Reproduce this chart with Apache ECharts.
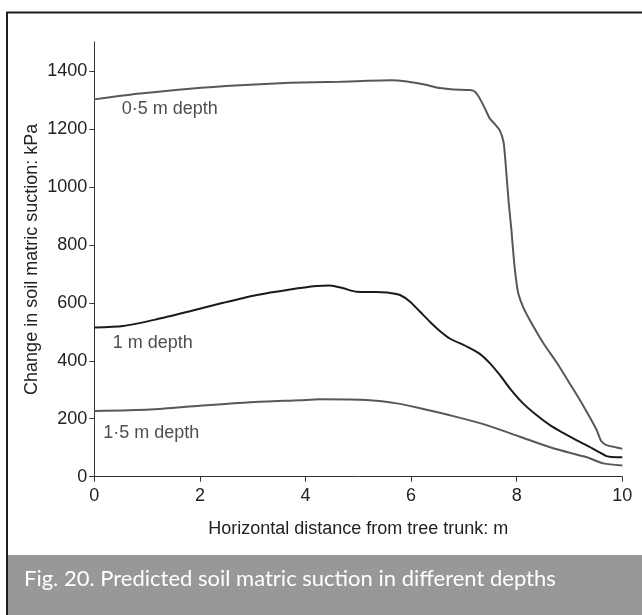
<!DOCTYPE html>
<html>
<head>
<meta charset="utf-8">
<script src="https://cdn.jsdelivr.net/npm/echarts@6/dist/echarts.min.js"></script>
<style>
  html, body { margin: 0; padding: 0; background: #fff; }
  #chart { width: 642px; height: 615px; }
</style>
</head>
<body>
<div id="chart"></div>
<script>
// distance from trunk (m) / suction (kPa)
var depth05 = [
  [0, 1302], [0.87, 1322], [1.81, 1339], [2.76, 1351], [3.7, 1359], [4.65, 1363],
  [5.6, 1368], [5.92, 1364], [6.23, 1354], [6.55, 1341], [6.8, 1336], [7.12, 1334],
  [7.21, 1328], [7.3, 1305], [7.4, 1270], [7.49, 1236], [7.59, 1216], [7.68, 1195],
  [7.75, 1155], [7.78, 1103], [7.81, 1034], [7.85, 943], [7.9, 851], [7.95, 742],
  [7.99, 678], [8.03, 632], [8.12, 586], [8.25, 540], [8.5, 462], [8.76, 393],
  [9.01, 320], [9.26, 245], [9.51, 163], [9.6, 123], [9.7, 109], [9.89, 101], [10, 96]
];
var depth10 = [
  [0, 515], [0.55, 520], [1.18, 543], [1.81, 571], [2.44, 600], [3.08, 627],
  [3.71, 646], [4.21, 658], [4.46, 660], [4.72, 650], [4.97, 638], [5.35, 637],
  [5.6, 634], [5.79, 627], [5.98, 604], [6.17, 569], [6.36, 534], [6.55, 502],
  [6.74, 476], [7.05, 450], [7.3, 424], [7.49, 392], [7.68, 351], [7.87, 305],
  [8.12, 253], [8.38, 212], [8.63, 178], [8.88, 151], [9.13, 126], [9.38, 103],
  [9.58, 83], [9.7, 71], [9.89, 67], [10, 67]
];
var depth15 = [
  [0, 227], [1.06, 232], [2.0, 245], [2.95, 257], [3.9, 264], [4.27, 267],
  [5.22, 264], [5.73, 253], [6.17, 236], [6.8, 209], [7.43, 178], [8.06, 138],
  [8.69, 98], [9.33, 67], [9.64, 46], [10, 39]
];
var curveLabels = [
  [0.52, 1268, '0·5 m depth'],
  [0.35, 462, '1 m depth'],
  [0.17, 150, '1·5 m depth']
];
var yTicks = [0, 200, 400, 600, 800, 1000, 1200, 1400];
var caption = 'Fig. 20. Predicted soil matric suction in different depths';

var chart = echarts.init(document.getElementById('chart'), null, { renderer: 'canvas' });

var font = '"Liberation Sans", Arial, sans-serif';

function curve(name, data, color) {
  return {
    name: name,
    type: 'line',
    data: data,
    showSymbol: false,
    smooth: 0.25,
    lineStyle: { color: color, width: 2 },
    z: 3
  };
}

chart.setOption({
  backgroundColor: '#fff',
  animation: false,
  graphic: [
    {
      type: 'rect',
      shape: { x: 7, y: 12.5, width: 660, height: 620 },
      style: { fill: 'none', stroke: '#1e1e1e', lineWidth: 2 },
      z: 1
    },
    {
      type: 'rect',
      shape: { x: 8, y: 555, width: 640, height: 62 },
      style: { fill: '#97989a' },
      z: 1
    },
    {
      type: 'text',
      left: 24,
      top: 568,
      style: { text: caption, fill: '#fff', font: '22px Lato, "Open Sans", sans-serif' },
      z: 2
    }
  ],
  grid: { left: 94.3, right: 19.7, top: 42, bottom: 138.3 },
  xAxis: {
    type: 'value',
    min: 0,
    max: 10,
    interval: 2,
    name: 'Horizontal distance from tree trunk: m',
    nameLocation: 'middle',
    nameGap: 43,
    nameMoveOverlap: false,
    nameTextStyle: { color: '#222', fontSize: 18, fontFamily: font },
    axisLine: { lineStyle: { color: '#333', width: 1 } },
    axisTick: { show: true, length: 5, lineStyle: { color: '#333' } },
    axisLabel: { color: '#222', fontSize: 18, fontFamily: font, margin: 10, formatter: function (v) { return String(v); } },
    splitLine: { show: false }
  },
  yAxis: {
    type: 'value',
    min: 0,
    max: 1500,
    name: 'Change in soil matric suction: kPa',
    nameLocation: 'middle',
    nameGap: 53,
    nameMoveOverlap: false,
    nameTextStyle: { color: '#222', fontSize: 18, fontFamily: font },
    axisLine: { show: true, lineStyle: { color: '#333', width: 1 } },
    axisTick: { show: true, length: 5, customValues: yTicks, lineStyle: { color: '#333' } },
    axisLabel: { color: '#222', fontSize: 18, fontFamily: font, margin: 7, customValues: yTicks, formatter: function (v) { return String(v); } },
    splitLine: { show: false }
  },
  series: [
    curve('0·5 m depth', depth05, '#58585b'),
    curve('1 m depth', depth10, '#1a1a1a'),
    curve('1·5 m depth', depth15, '#58585b'),
    {
      type: 'scatter',
      data: curveLabels,
      symbolSize: 0,
      silent: true,
      label: {
        show: true,
        position: 'right',
        distance: 0,
        color: '#222',
        fontSize: 18,
        fontFamily: font,
        formatter: function (p) { return p.data[2]; }
      },
      z: 4
    }
  ]
});
</script>
</body>
</html>
